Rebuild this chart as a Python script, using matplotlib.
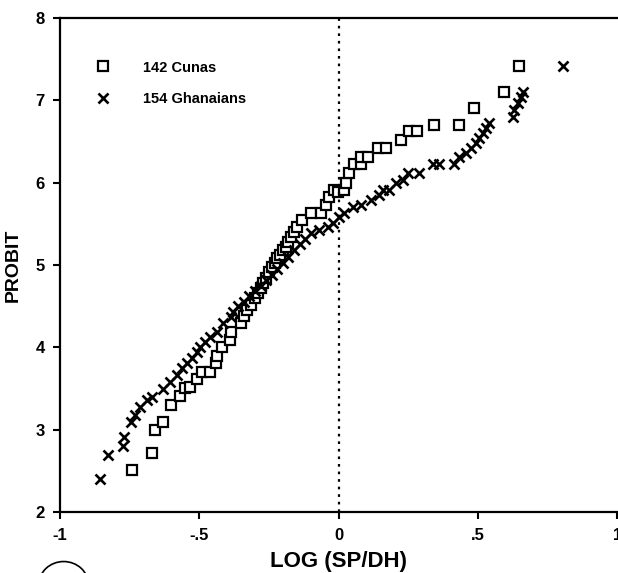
import numpy as np
import matplotlib
matplotlib.use('Agg')
import matplotlib.pyplot as plt
from matplotlib.patches import Circle

plt.rcParams['font.family'] = ['Liberation Sans', 'DejaVu Sans']
plt.rcParams['font.weight'] = 'bold'

# 142 Cunas (open squares)
cuna_x = [-0.74, -0.67, -0.66, -0.63, -0.60, -0.57, -0.55, -0.535, -0.51, -0.49,
          -0.46, -0.44, -0.435, -0.42, -0.39, -0.385, -0.35, -0.34, -0.33, -0.315,
          -0.30, -0.29, -0.28, -0.27, -0.26, -0.25, -0.24, -0.23, -0.22, -0.21,
          -0.20, -0.19, -0.18, -0.17, -0.16, -0.15, -0.13, -0.10, -0.065, -0.047,
          -0.036, -0.017, -0.004, 0.018, 0.025, 0.036, 0.054, 0.079, 0.08, 0.104,
          0.14, 0.17, 0.223, 0.252, 0.28, 0.342, 0.43, 0.486, 0.594, 0.647]
cuna_y = [2.51, 2.72, 3.00, 3.10, 3.30, 3.41, 3.51, 3.52, 3.62, 3.70,
          3.70, 3.81, 3.90, 4.00, 4.09, 4.19, 4.30, 4.38, 4.45, 4.52,
          4.60, 4.66, 4.72, 4.78, 4.84, 4.92, 4.98, 5.02, 5.08, 5.12,
          5.18, 5.22, 5.28, 5.34, 5.40, 5.46, 5.55, 5.63, 5.63, 5.73,
          5.82, 5.91, 5.88, 5.91, 6.00, 6.12, 6.22, 6.22, 6.31, 6.31,
          6.42, 6.42, 6.52, 6.62, 6.62, 6.70, 6.70, 6.91, 7.10, 7.41]

# 154 Ghanaians (crosses)
ghana_x = [-0.856, -0.827, -0.773, -0.77, -0.745, -0.73, -0.712, -0.687, -0.669, -0.63,
           -0.604, -0.58, -0.561, -0.543, -0.525, -0.507, -0.496, -0.478, -0.46, -0.435,
           -0.414, -0.388, -0.378, -0.36, -0.34, -0.32, -0.30, -0.28, -0.26, -0.24,
           -0.22, -0.20, -0.18, -0.16, -0.14, -0.12, -0.10, -0.07, -0.04, -0.02,
           0.0, 0.018, 0.05, 0.08, 0.115, 0.144, 0.158, 0.18, 0.205, 0.23,
           0.248, 0.288, 0.338, 0.36, 0.414, 0.432, 0.457, 0.475, 0.493, 0.504,
           0.518, 0.529, 0.54, 0.626, 0.63, 0.644, 0.655, 0.662, 0.806]
ghana_y = [2.40, 2.70, 2.81, 2.91, 3.09, 3.18, 3.28, 3.36, 3.40, 3.50,
           3.58, 3.66, 3.75, 3.81, 3.87, 3.94, 4.00, 4.07, 4.13, 4.19,
           4.30, 4.37, 4.43, 4.50, 4.55, 4.62, 4.68, 4.75, 4.82, 4.88,
           4.95, 5.02, 5.10, 5.18, 5.25, 5.32, 5.39, 5.43, 5.46, 5.51,
           5.58, 5.63, 5.70, 5.73, 5.79, 5.85, 5.91, 5.91, 6.00, 6.03,
           6.12, 6.12, 6.22, 6.22, 6.22, 6.31, 6.36, 6.42, 6.48, 6.54,
           6.60, 6.66, 6.72, 6.80, 6.88, 6.97, 7.04, 7.10, 7.41]

xticks = [-1, -0.5, 0, 0.5, 1]
xticklabels = ['-1', '-.5', '0', '.5', '1']
yticks = [2, 3, 4, 5, 6, 7, 8]

fig = plt.figure(figsize=(6.18, 5.73), dpi=100)
ax = fig.add_axes([0.097, 0.106, 0.902, 0.863])

ax.plot(cuna_x, cuna_y, ls='none', marker='s', ms=7, mfc='white', mec='black',
        mew=1.6, label='142 Cunas')
ax.plot(ghana_x, ghana_y, ls='none', marker='x', ms=6.5, mec='black',
        mew=1.9, label='154 Ghanaians')

ax.axvline(0, color='black', ls=(0, (1.2, 2.2)), lw=1.6)

ax.set_xlim(-1, 1)
ax.set_ylim(2, 8)
ax.set_xticks(xticks)
ax.set_xticklabels(xticklabels)
ax.set_yticks(yticks)
ax.tick_params(direction='out', length=5, width=1.5, labelsize=12, pad=6)
for sp in ax.spines.values():
    sp.set_linewidth(1.6)
ax.spines['right'].set_visible(False)

ax.set_xlabel('LOG (SP/DH)', fontsize=16, fontweight='bold', labelpad=6)
ax.set_ylabel('PROBIT', fontsize=14, fontweight='bold', labelpad=10)

leg = ax.legend(loc='upper left', bbox_to_anchor=(0.04, 0.94), frameon=False,
                fontsize=10.5, handlelength=1.0, handletextpad=2.3, labelspacing=1.2)

# hand-drawn circle fragment at the bottom-left of the scan
fig.patches.append(Circle((0.103, -0.02), 0.04, transform=fig.transFigure,
                          fill=False, ec='black', lw=1.2))

fig.savefig('out.png', dpi=100)
